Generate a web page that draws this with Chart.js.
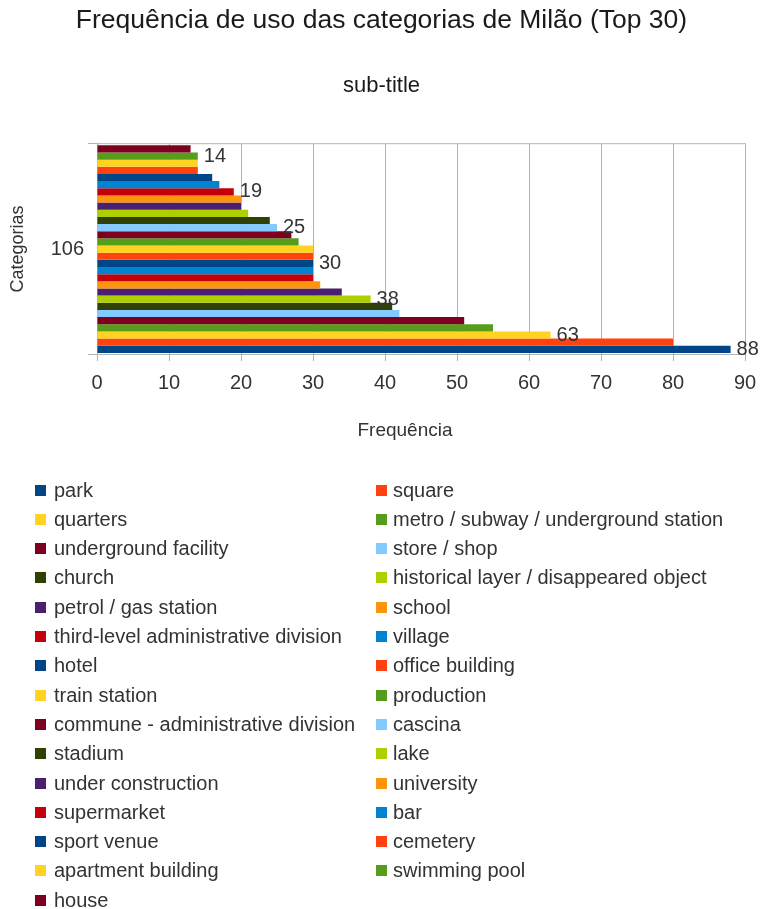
<!DOCTYPE html>
<html>
<head>
<meta charset="utf-8">
<title>Frequência de uso das categorias de Milão</title>
<script src="https://cdn.jsdelivr.net/npm/chart.js@4/dist/chart.umd.min.js"></script>
<style>
  html, body { margin: 0; padding: 0; background: #ffffff; }
  canvas { display: block; }
</style>
</head>
<body>
<canvas id="chart" width="763" height="909"></canvas>
<script>
// Category names, in legend order
const categoryNames = [
  'park', 'square',
  'quarters', 'metro / subway / underground station',
  'underground facility', 'store / shop',
  'church', 'historical layer / disappeared object',
  'petrol / gas station', 'school',
  'third-level administrative division', 'village',
  'hotel', 'office building',
  'train station', 'production',
  'commune - administrative division', 'cascina',
  'stadium', 'lake',
  'under construction', 'university',
  'supermarket', 'bar',
  'sport venue', 'cemetery',
  'apartment building', 'swimming pool',
  'house'
];

// Usage counts per category
const frequencies = [
  88, 80, 63, 55, 51, 42, 41, 38, 34, 31,
  30, 30, 30, 30, 30, 28, 27, 25, 24, 21,
  20, 20, 19, 17, 16, 14, 14, 14, 13
];

// Single group on the category axis
const groupLabels = ['106'];

// Series whose value is printed next to the bar
const labelledSeries = [0, 2, 7, 12, 17, 22, 27];

// Value-axis ticks
const xTickMin = 0;
const xTickMax = 90;
const xTickStep = 10;

const palette = [
  '#004586', '#ff420e', '#ffd320', '#579d1c', '#7e0021', '#83caff',
  '#314004', '#aecf00', '#4b1f6f', '#ff950e', '#c5000b', '#0084d1'
];

const FONT = '"Liberation Sans", Arial, sans-serif';
const TEXT = '#333333';
const GRID = '#b3b3b3';

// Datasets listed last-to-first so the first category sits at the bottom
const datasets = categoryNames.map((name, i) => ({
  label: name,
  data: [frequencies[i]],
  backgroundColor: palette[i % palette.length],
  borderWidth: 0,
  showValue: labelledSeries.includes(i),
  legendIndex: i
})).reverse();

// Frame line along the top of the plot area
const frameTop = {
  id: 'frameTop',
  afterDatasetsDraw(chart) {
    const { ctx, chartArea } = chart;
    ctx.save();
    ctx.strokeStyle = GRID;
    ctx.lineWidth = 1;
    ctx.beginPath();
    ctx.moveTo(chartArea.left, chartArea.top + 0.5);
    ctx.lineTo(chartArea.right, chartArea.top + 0.5);
    ctx.stroke();
    ctx.restore();
  }
};

// Value labels printed after the end of selected bars
const valueLabels = {
  id: 'valueLabels',
  afterDatasetsDraw(chart) {
    const { ctx } = chart;
    ctx.save();
    ctx.font = '20px ' + FONT;
    ctx.fillStyle = TEXT;
    ctx.textAlign = 'left';
    ctx.textBaseline = 'middle';
    chart.data.datasets.forEach((ds, di) => {
      if (!ds.showValue) return;
      const meta = chart.getDatasetMeta(di);
      meta.data.forEach((bar, j) => {
        ctx.fillText(String(ds.data[j]), bar.x + 6, bar.y);
      });
    });
    ctx.restore();
  }
};

// Value-axis title, centred under the plot and its left margin
const xAxisTitle = {
  id: 'xAxisTitle',
  afterDraw(chart) {
    const { ctx } = chart;
    const xs = chart.scales.x;
    ctx.save();
    ctx.font = '19px ' + FONT;
    ctx.fillStyle = TEXT;
    ctx.textAlign = 'center';
    ctx.textBaseline = 'middle';
    ctx.fillText('Frequência', (xs.left + xs.right) / 2 - 16, xs.bottom - 13);
    ctx.restore();
  }
};

// Two-column legend beneath the axis title
const sideLegend = {
  id: 'sideLegend',
  afterDraw(chart) {
    const { ctx } = chart;
    const items = chart.data.datasets.slice().sort((a, b) => a.legendIndex - b.legendIndex);
    const colBox = [35, 376];
    const colText = [54, 393];
    const top = 490;
    const rowStep = 29.3;
    const box = 11;
    ctx.save();
    ctx.font = '20px ' + FONT;
    ctx.textAlign = 'left';
    ctx.textBaseline = 'middle';
    items.forEach((ds, i) => {
      const col = i % 2;
      const row = Math.floor(i / 2);
      const y = top + row * rowStep;
      ctx.fillStyle = ds.backgroundColor;
      ctx.fillRect(colBox[col], Math.round(y - box / 2), box, box);
      ctx.fillStyle = TEXT;
      ctx.fillText(ds.label, colText[col], y + 1);
    });
    ctx.restore();
  }
};

new Chart(document.getElementById('chart'), {
  type: 'bar',
  data: { labels: groupLabels, datasets },
  plugins: [frameTop, valueLabels, xAxisTitle, sideLegend],
  options: {
    indexAxis: 'y',
    responsive: false,
    animation: false,
    devicePixelRatio: 1,
    categoryPercentage: 0.98,
    barPercentage: 1,
    layout: { padding: { left: 0, right: 0, top: 0, bottom: 465 } },
    plugins: {
      legend: { display: false },
      tooltip: { enabled: false },
      title: {
        display: true,
        text: 'Frequência de uso das categorias de Milão (Top 30)',
        color: '#1a1a1a',
        font: { family: FONT, size: 26.5, weight: 'normal' },
        padding: { top: 5, bottom: 36 }
      },
      subtitle: {
        display: true,
        text: 'sub-title',
        color: '#1a1a1a',
        font: { family: FONT, size: 22, weight: 'normal' },
        padding: { top: 0, bottom: 44 }
      }
    },
    scales: {
      x: {
        min: xTickMin,
        max: xTickMax,
        ticks: {
          stepSize: xTickStep,
          color: TEXT,
          font: { family: FONT, size: 20 },
          padding: 10
        },
        grid: { color: GRID, tickLength: 6, lineWidth: 1 },
        border: { color: GRID },
        title: { display: false },
        afterFit(scale) {
          scale.height = 89;
          scale.paddingLeft = 0;
          scale.paddingRight = 18;
        }
      },
      y: {
        type: 'category',
        offset: true,
        ticks: {
          color: TEXT,
          font: { family: FONT, size: 20 },
          padding: 4
        },
        grid: {
          offset: true,
          drawOnChartArea: false,
          color: GRID,
          tickLength: 9
        },
        border: { color: GRID },
        title: {
          display: true,
          text: 'Categorias',
          color: TEXT,
          font: { family: FONT, size: 18 },
          padding: { top: 7, bottom: 0 }
        },
        afterFit(scale) { scale.width = 97; }
      }
    }
  }
});
</script>
</body>
</html>
